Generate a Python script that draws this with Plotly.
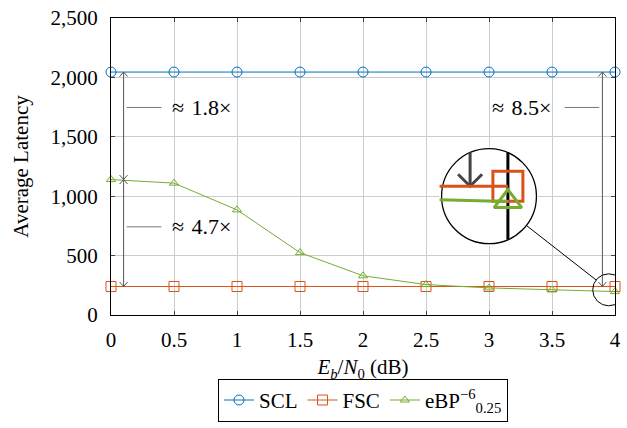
import math
import plotly.graph_objects as go

# ---------------- data ----------------
ebn0 = [0, 0.5, 1, 1.5, 2, 2.5, 3, 3.5, 4]
x_ticktext = ["0", "0.5", "1", "1.5", "2", "2.5", "3", "3.5", "4"]
scl = [2045, 2045, 2045, 2045, 2045, 2045, 2045, 2045, 2045]
fsc = [240, 240, 240, 240, 240, 240, 240, 240, 240]
ebp = [1140, 1110, 885, 525, 330, 256, 228, 211, 197]
y_ticks = [0, 500, 1000, 1500, 2000, 2500]
y_ticktext = ["0", "500", "1,000", "1,500", "2,000", "2,500"]
names = ["SCL", "FSC", "eBP<sup>−6</sup><sub>0.25</sub>"]
ratio_labels = ["≈ 1.8×", "≈ 4.7×", "≈ 8.5×"]

# ---------------- styles / geometry ----------------
BLUE, ORANGE, GREEN = "#0072BD", "#D95319", "#77AC30"
ARROW = "#555555"
FONT = "Liberation Serif"
FS = 21
W, H = 627, 428
ML, MR, MT, MB = 111, 6, 18, 110
PW, PH = W - ML - MR, H - MT - MB
XR, YR = [0, 4], [0, 2500]
sx = PW / (XR[1] - XR[0])
sy = PH / (YR[1] - YR[0])

# spy (magnifier) settings
MAG = 3
R_SMALL = 16
R_BIG = R_SMALL * MAG
PAD = 2
spy_at = (3.95, 212)
spy_on = (3.0, 1000)

fig = go.Figure()

# main traces
for vals, col, sym, nm in [(scl, BLUE, "circle-open", names[0]),
                           (fsc, ORANGE, "square-open", names[1]),
                           (ebp, GREEN, "triangle-up-open", names[2])]:
    fig.add_trace(go.Scatter(
        x=ebn0, y=vals, name=nm, mode="lines+markers",
        line=dict(color=col, width=1),
        marker=dict(symbol=sym, size=10 if sym != "triangle-up-open" else 8,
                    color=col, line=dict(color=col, width=1)),
        cliponaxis=False, xaxis="x", yaxis="y"))

# inset (magnified) traces
for vals, col, sym in [(fsc, ORANGE, "square-open"),
                       (ebp, GREEN, "triangle-up-open")]:
    fig.add_trace(go.Scatter(
        x=ebn0, y=vals, mode="lines+markers", showlegend=False,
        line=dict(color=col, width=3),
        marker=dict(symbol=sym, size=(10 if sym == "square-open" else 8) * MAG,
                    color=col, line=dict(color=col, width=3)),
        xaxis="x2", yaxis="y2", hoverinfo="skip"))

shapes = []
annotations = []


def vhead(x, y, up, xref, yref, hw, h, color, width, layer="above"):
    d = -h if up else h
    return dict(type="path", xref=xref, yref=yref, xsizemode="pixel",
                ysizemode="pixel", xanchor=x, yanchor=y,
                path=f"M {-hw},{d} L 0,0 L {hw},{d}",
                line=dict(color=color, width=width), layer=layer)


def darrow(x, ya, yb):
    shapes.append(dict(type="line", xref="x", yref="y", x0=x, x1=x, y0=ya, y1=yb,
                       line=dict(color=ARROW, width=1), layer="above"))
    shapes.append(vhead(x, max(ya, yb), True, "x", "y", 4, 4.5, ARROW, 1))
    shapes.append(vhead(x, min(ya, yb), False, "x", "y", 4, 4.5, ARROW, 1))


xa_left, xa_right = 0.1, 3.9
darrow(xa_left, ebp[0], scl[0])
darrow(xa_left, fsc[0], ebp[0])
darrow(xa_right, fsc[-1], scl[-1])

# ratio labels with short leader lines
lab_y = [1747, 742, 1747]
for i, (x0, x1, tx, anch) in enumerate([(0.125, 0.40, 0.47, "left"),
                                        (0.125, 0.40, 0.465, "left"),
                                        (3.60, 3.875, 3.51, "right")]):
    shapes.append(dict(type="line", xref="x", yref="y", x0=x0, x1=x1,
                       y0=lab_y[i], y1=lab_y[i],
                       line=dict(color="#777777", width=1), layer="above"))
    annotations.append(dict(x=tx, y=lab_y[i], xref="x", yref="y",
                            text=ratio_labels[i].replace(" ", "\u2004"),
                            showarrow=False,
                            xanchor=anch, yanchor="middle",
                            font=dict(family=FONT, size=FS + 1, color="black")))

# small spy circle
shapes.append(dict(type="circle", xref="x", yref="y", xsizemode="pixel",
                   ysizemode="pixel", xanchor=spy_at[0], yanchor=spy_at[1],
                   x0=-R_SMALL, x1=R_SMALL, y0=-R_SMALL, y1=R_SMALL,
                   line=dict(color="black", width=1), layer="above"))

# connector line between circles
dxp = (spy_at[0] - spy_on[0]) * sx
dyp = (spy_at[1] - spy_on[1]) * sy
ln = math.hypot(dxp, dyp)
ux, uy = dxp / ln, dyp / ln
shapes.append(dict(type="line", xref="x", yref="y",
                   x0=spy_on[0] + R_BIG * ux / sx, y0=spy_on[1] + R_BIG * uy / sy,
                   x1=spy_at[0] - R_SMALL * ux / sx, y1=spy_at[1] - R_SMALL * uy / sy,
                   line=dict(color="black", width=1), layer="above"))

# inset: white disc, plot border and arrow (magnified)
kx, ky = sx * MAG, sy * MAG
x2r = [spy_at[0] - (R_BIG + PAD) / kx, spy_at[0] + (R_BIG + PAD) / kx]
y2r = [spy_at[1] - (R_BIG + PAD) / ky, spy_at[1] + (R_BIG + PAD) / ky]
shapes.append(dict(type="circle", xref="x2", yref="y2",
                   x0=spy_at[0] - R_BIG / kx, x1=spy_at[0] + R_BIG / kx,
                   y0=spy_at[1] - R_BIG / ky, y1=spy_at[1] + R_BIG / ky,
                   fillcolor="white",
                   line=dict(color="black", width=1.3), layer="below"))


def half_h(xv):
    dx = (xv - spy_at[0]) * kx
    return math.sqrt(max(R_BIG ** 2 - dx ** 2, 0)) / ky


hb = half_h(XR[1])
shapes.append(dict(type="line", xref="x2", yref="y2", x0=XR[1], x1=XR[1],
                   y0=spy_at[1] - hb, y1=spy_at[1] + hb,
                   line=dict(color="black", width=3), layer="below"))
ha = half_h(xa_right)
shapes.append(dict(type="line", xref="x2", yref="y2", x0=xa_right, x1=xa_right,
                   y0=fsc[-1], y1=spy_at[1] + ha,
                   line=dict(color="#444444", width=3), layer="below"))
shapes.append(vhead(xa_right, fsc[-1], False, "x2", "y2", 12, 12, "#444444", 3,
                    layer="below"))

ix0 = (spy_on[0] - XR[0]) * sx
iy0 = (spy_on[1] - YR[0]) * sy

axis_common = dict(showline=True, linecolor="black", linewidth=1, mirror="ticks",
                   ticks="inside", ticklen=4, tickcolor="#444444",
                   showgrid=True, gridcolor="#cccccc", gridwidth=1,
                   zeroline=False,
                   tickfont=dict(family=FONT, size=FS, color="black"))

fig.update_layout(
    width=W, height=H,
    margin=dict(l=ML, r=MR, t=MT, b=MB),
    paper_bgcolor="white", plot_bgcolor="white",
    font=dict(family=FONT, size=FS, color="black"),
    xaxis=dict(range=XR, tickvals=ebn0, ticktext=x_ticktext,
               ticklabelstandoff=6,
               title=dict(text="<i>E</i><sub><i>b</i></sub>/<i>N</i><sub>0</sub> (dB)",
                          standoff=8, font=dict(family=FONT, size=FS)),
               **axis_common),
    yaxis=dict(range=YR, tickvals=y_ticks, ticktext=y_ticktext,
               ticklabelstandoff=8,
               title=dict(text="Average Latency", standoff=16,
                          font=dict(family=FONT, size=FS)),
               **axis_common),
    xaxis2=dict(domain=[(ix0 - R_BIG - PAD) / PW, (ix0 + R_BIG + PAD) / PW],
                range=x2r, anchor="y2", visible=False, showgrid=False),
    yaxis2=dict(domain=[(iy0 - R_BIG - PAD) / PH, (iy0 + R_BIG + PAD) / PH],
                range=y2r, anchor="x2", visible=False, showgrid=False),
    legend=dict(orientation="h", x=0.5, xanchor="center", y=-0.215, yanchor="top",
                bordercolor="black", borderwidth=1, bgcolor="white",
                font=dict(family=FONT, size=FS),
                tracegroupgap=0),
    shapes=shapes, annotations=annotations, showlegend=True,
)

fig.write_html("out.html")
